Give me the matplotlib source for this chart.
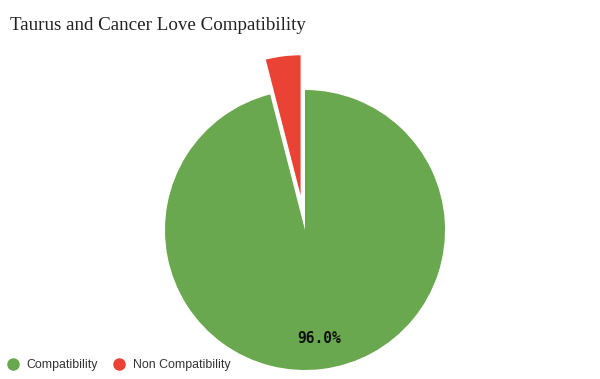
import matplotlib
matplotlib.use("Agg")
import matplotlib.pyplot as plt
from matplotlib.lines import Line2D

labels = ["Compatibility", "Non Compatibility"]
values = [96.0, 4.0]
colors = ["#6aa84f", "#ea4335"]
explode_frac = [0, 0.25]

R = 140
fig = plt.figure(figsize=(6, 3.79), dpi=100)
ax = fig.add_axes([0, 0, 1, 1])

wedges, texts, autotexts = ax.pie(
    values, colors=colors, explode=[e * R for e in explode_frac], startangle=90,
    counterclock=False, center=(305, 379 - 230), radius=R, frame=True,
    autopct=lambda p: f"{p:.1f}%" if p > 5 else "", pctdistance=0.78,
    wedgeprops=dict(linewidth=0),
    textprops=dict(family="DejaVu Sans Mono", fontweight="bold", fontsize=10.5, color="#111111"),
)
ax.set_xlim(0, 600)
ax.set_ylim(0, 379)
ax.set_aspect("equal")
ax.axis("off")

fig.text(10, 379 - 25, "Taurus and Cancer Love Compatibility", transform=None,
         family="Liberation Serif", fontsize=13.7, color="#222222", va="center", ha="left")

handles = [Line2D([], [], marker="o", linestyle="", markersize=8, color=c) for c in colors]
fig.legend(handles, labels, loc="lower left", bbox_to_anchor=(0.0, 0.003), ncol=2,
           frameon=False, prop=dict(family="Liberation Sans", size=8.9),
           labelcolor="#333333", handletextpad=0.65, columnspacing=1.15,
           borderaxespad=0.12, handlelength=1.0)

fig.savefig("out.png", dpi=100)
